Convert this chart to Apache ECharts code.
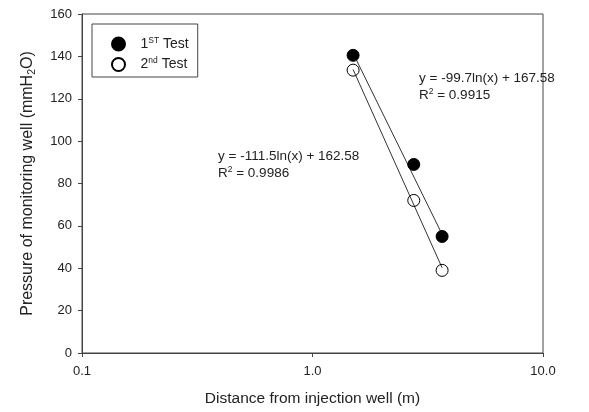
<!DOCTYPE html>
<html>
<head>
<meta charset="utf-8">
<script src="https://cdn.jsdelivr.net/npm/echarts@6/dist/echarts.min.js"></script>
<style>html,body{margin:0;padding:0;background:#fff}#c{width:589px;height:412px}</style>
</head>
<body>
<div id="c"></div>
<script>
const xValues = [1.5, 2.75, 3.65];
const test1 = [140.5, 89, 55];
const test2 = [133.5, 72, 39];
const fitX = [1.5, 3.65];
const fit1 = [141.5, 56];
const fit2 = [133.8, 40.2];
const seriesNames = ['1ST Test', '2nd Test'];
const legendLabels = ['1{sup|ST} Test', '2{sup|nd} Test'];
const eq1 = ['y = -99.7ln(x) + 167.58', 'R{sup|2} = 0.9915'];
const eq2 = ['y = -111.5ln(x) + 162.58', 'R{sup|2} = 0.9986'];
const yMin = 0, yMax = 160, yStep = 20;
const xMin = 0.1, xMax = 10;

const FONT = 'Liberation Sans, Arial, sans-serif';
const AX = '#444';
const TXT = '#222';
const pair = (xs, ys) => xs.map((x, i) => [x, ys[i]]);
const supRich = { sup: { fontSize: 8.5, verticalAlign: 'top', lineHeight: 16, fontFamily: FONT, color: TXT } };

const chart = echarts.init(document.getElementById('c'), null, { renderer: 'canvas' });
chart.setOption({
  animation: false,
  backgroundColor: '#fff',
  textStyle: { fontFamily: FONT },
  grid: { left: 82, top: 14, right: 46, bottom: 58, show: true, borderColor: AX, borderWidth: 1, backgroundColor: 'transparent' },
  xAxis: {
    type: 'log', logBase: 10, min: xMin, max: xMax,
    name: 'Distance from injection well (m)', nameLocation: 'middle', nameGap: 38,
    nameTextStyle: { fontSize: 15.5, color: TXT, fontFamily: FONT },
    axisLine: { show: true, lineStyle: { color: AX, width: 1 } },
    axisTick: { show: true, inside: false, length: 4, lineStyle: { color: AX } },
    minorTick: { show: false },
    splitLine: { show: false },
    axisLabel: { fontSize: 13, color: TXT, margin: 12, formatter: v => Number(v).toFixed(1), fontFamily: FONT }
  },
  yAxis: {
    type: 'value', min: yMin, max: yMax, interval: yStep,
    name: 'Pressure of monitoring well (mmH{sub|2}O)', nameLocation: 'middle', nameGap: 44, nameRotate: 90,
    nameTextStyle: { fontSize: 16, color: TXT, fontFamily: FONT, rich: { sub: { fontSize: 10.5, verticalAlign: 'bottom', lineHeight: 21, fontFamily: FONT, color: TXT } } },
    axisLine: { show: true, lineStyle: { color: AX, width: 1 } },
    axisTick: { show: true, inside: false, length: 4, lineStyle: { color: AX } },
    splitLine: { show: false },
    axisLabel: { fontSize: 13, color: TXT, margin: 10, fontFamily: FONT }
  },
  legend: {
    orient: 'vertical', left: 92, top: 24,
    data: seriesNames,
    icon: 'circle', itemWidth: 34, itemHeight: 13, itemGap: 5,
    padding: [12, 9, 5, 19],
    borderColor: AX, borderWidth: 1, borderRadius: 0,
    formatter: n => legendLabels[seriesNames.indexOf(n)],
    textStyle: { fontSize: 14, color: TXT, fontFamily: FONT, rich: supRich }
  },
  series: [
    { type: 'line', data: pair(fitX, fit1), symbol: 'none', lineStyle: { color: '#333', width: 1 }, silent: true, z: 2 },
    { type: 'line', data: pair(fitX, fit2), symbol: 'none', lineStyle: { color: '#333', width: 1 }, silent: true, z: 2 },
    { name: seriesNames[0], type: 'scatter', data: pair(xValues, test1), symbol: 'circle', symbolSize: 12,
      itemStyle: { color: '#000', borderColor: '#000', borderWidth: 1, opacity: 1 }, z: 3 },
    { name: seriesNames[1], type: 'scatter', data: pair(xValues, test2), symbol: 'circle', symbolSize: 12,
      itemStyle: { color: 'rgba(255,255,255,0)', borderColor: '#000', borderWidth: 1, opacity: 1 }, z: 3 }
  ],
  graphic: [
    { type: 'text', left: 419, top: 70, style: { text: eq1[0] + '\n' + eq1[1], fontSize: 13.5, lineHeight: 17, fill: TXT, fontFamily: FONT, rich: supRich } },
    { type: 'text', left: 218, top: 148, style: { text: eq2[0] + '\n' + eq2[1], fontSize: 13.5, lineHeight: 17, fill: TXT, fontFamily: FONT, rich: supRich } }
  ]
});
</script>
</body>
</html>
